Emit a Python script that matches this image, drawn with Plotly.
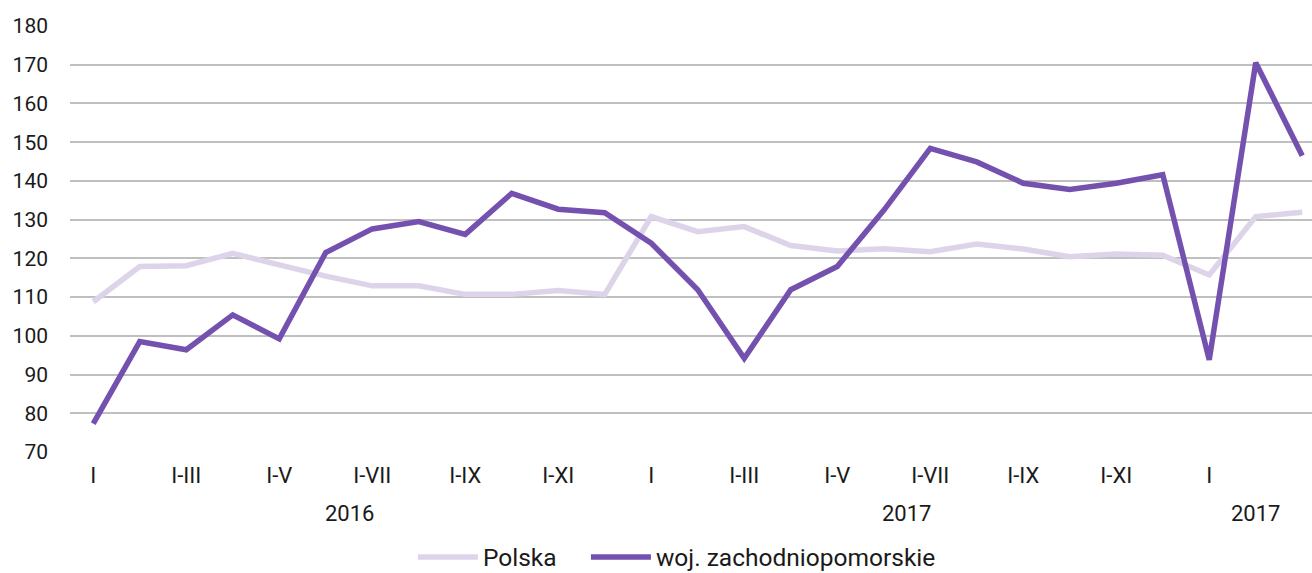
import plotly.graph_objects as go

months = ["I", "I-II", "I-III", "I-IV", "I-V", "I-VI", "I-VII", "I-VIII", "I-IX", "I-X", "I-XI", "I-XII"]
categories = months + months + months[:3]
x_idx = list(range(len(categories)))

polska = [108.8, 117.9, 118.1, 121.3, 118.3, 115.4, 112.9, 112.9, 110.7, 110.7, 111.7, 110.7,
          130.8, 126.9, 128.2, 123.3, 121.9, 122.5, 121.7, 123.7, 122.4, 120.4, 121.1, 120.8,
          115.7, 130.8, 131.9]
zachodniopomorskie = [77.3, 98.5, 96.4, 105.4, 99.2, 121.5, 127.6, 129.5, 126.2, 136.8, 132.7, 131.8,
                      123.9, 111.9, 94.2, 111.9, 117.9, 132.4, 148.4, 144.9, 139.4, 137.8, 139.4, 141.6,
                      93.8, 170.5, 146.5]

years = ["2016", "2017", "2017"]
year_centers = [5.5, 17.5, 25]

tick_positions = x_idx[::2]
tick_labels = categories[::2]

FONT = "Roboto, 'Fira Sans', Arial, sans-serif"
TXT = "#1a1a1a"

fig = go.Figure()
fig.add_trace(go.Scatter(x=x_idx, y=polska, mode="lines", name="Polska", legend="legend",
                         line=dict(color="#ddd4ea", width=5.5)))
fig.add_trace(go.Scatter(x=x_idx, y=zachodniopomorskie, mode="lines", name="woj. zachodniopomorskie",
                         legend="legend2", line=dict(color="#7451ae", width=5.5)))

for yr, xc in zip(years, year_centers):
    fig.add_annotation(x=xc, y=0, xref="x", yref="paper", text=yr, showarrow=False,
                       yshift=-61, yanchor="middle", font=dict(size=22, color=TXT, family=FONT))

legend_common = dict(orientation="h", yref="container", y=1 - 557 / 573, yanchor="middle", xanchor="left",
                     font=dict(size=24.5, color=TXT, family=FONT), itemwidth=60,
                     bgcolor="rgba(0,0,0,0)")

fig.update_layout(
    width=1312, height=573,
    margin=dict(l=70, r=0, t=25, b=121, autoexpand=False),
    plot_bgcolor="white", paper_bgcolor="white",
    font=dict(family=FONT, size=21, color=TXT),
    showlegend=True,
    legend=dict(x=0.2761, **legend_common),
    legend2=dict(x=0.4154, **legend_common),
    xaxis=dict(range=[-0.5, 26.21], tickmode="array", tickvals=tick_positions, ticktext=tick_labels,
               showgrid=False, zeroline=False, showline=False, ticks="",
               tickfont=dict(size=22), ticklabelstandoff=8),
    yaxis=dict(range=[70, 180.25], tickmode="linear", tick0=70, dtick=10,
               showgrid=True, gridcolor="#c0c0c0", gridwidth=1.6, zeroline=False, showline=False,
               ticks="", tickfont=dict(size=21), ticklabelstandoff=21),
)

fig.write_html("out.html", config={"displayModeBar": False},
               post_script="document.body.style.margin='0';document.body.style.overflow='hidden';")
